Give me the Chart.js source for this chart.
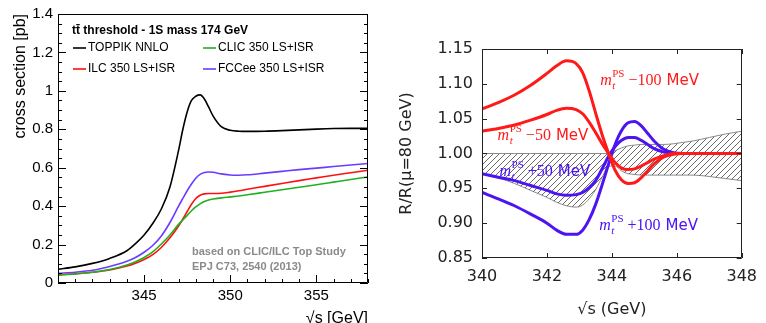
<!DOCTYPE html>
<html>
<head>
<meta charset="utf-8">
<script src="https://cdn.jsdelivr.net/npm/chart.js@4.4.1/dist/chart.umd.min.js"></script>
<style>
  html, body { margin: 0; padding: 0; background: #fff; }
  body { width: 766px; height: 323px; overflow: hidden; position: relative; }
  canvas { position: absolute; top: 0; }
  #left { left: 0; }
  #right { left: 383px; }
</style>
</head>
<body>
<canvas id="left" width="383" height="323"></canvas>
<canvas id="right" width="383" height="323"></canvas>
<script>
// ---- left panel: ttbar threshold scan, cross section [pb] vs sqrt(s) [GeV]
const leftEnergy = [340, 341, 342, 343, 344, 344.5, 345, 345.5, 346, 346.5, 347, 347.25, 347.5, 347.75,
  348, 348.25, 348.5, 348.75, 349, 349.5, 350, 350.5, 351, 352, 353, 354, 355, 356, 357, 358];
const toppikNNLO = [0.072, 0.084, 0.102, 0.128, 0.168, 0.205, 0.25, 0.31, 0.385, 0.5, 0.69, 0.8, 0.89, 0.95,
  0.972, 0.979, 0.958, 0.915, 0.87, 0.812, 0.795, 0.79, 0.789, 0.79, 0.793, 0.797, 0.801, 0.804, 0.805, 0.805];
const fcceeLSISR = [0.05, 0.056, 0.066, 0.086, 0.113, 0.133, 0.16, 0.195, 0.245, 0.315, 0.4, 0.44, 0.48, 0.515,
  0.545, 0.565, 0.575, 0.578, 0.576, 0.568, 0.562, 0.561, 0.563, 0.572, 0.581, 0.59, 0.598, 0.606, 0.614, 0.622];
const ilcLSISR = [0.043, 0.048, 0.056, 0.068, 0.088, 0.103, 0.122, 0.148, 0.185, 0.235, 0.297, 0.333, 0.372, 0.41,
  0.44, 0.457, 0.464, 0.466, 0.466, 0.467, 0.473, 0.48, 0.488, 0.503, 0.518, 0.533, 0.547, 0.561, 0.574, 0.587];
const clicLSISR = [0.041, 0.047, 0.056, 0.07, 0.094, 0.111, 0.133, 0.162, 0.203, 0.25, 0.305, 0.328, 0.352, 0.376,
  0.396, 0.412, 0.424, 0.432, 0.437, 0.443, 0.448, 0.453, 0.459, 0.472, 0.485, 0.498, 0.511, 0.525, 0.539, 0.552];
const leftXLabels = [345, 350, 355];
const leftYLabels = [0, 0.2, 0.4, 0.6, 0.8, 1, 1.2, 1.4];

// ---- right panel: ratio to mu = 80 GeV for shifted PS masses
const rightEnergy = [340, 340.5, 341, 341.5, 342, 342.3, 342.6, 342.9, 343.1, 343.3, 343.5, 343.7, 343.9,
  344.1, 344.3, 344.5, 344.7, 344.9, 345.1, 345.3, 345.6, 345.9, 346.2, 346.5, 347, 347.5, 348];
const massMinus100 = [1.064, 1.073, 1.084, 1.098, 1.115, 1.126, 1.133, 1.129, 1.116, 1.09, 1.058, 1.027, 1.0,
  0.976, 0.962, 0.957, 0.958, 0.965, 0.975, 0.985, 0.995, 0.999, 1.0, 1.0, 1.0, 1.0, 1.0];
const massMinus50 = [1.032, 1.036, 1.041, 1.048, 1.056, 1.062, 1.065, 1.063, 1.057, 1.045, 1.03, 1.014, 1.0,
  0.987, 0.979, 0.977, 0.978, 0.982, 0.987, 0.992, 0.997, 1.0, 1.0, 1.0, 1.0, 1.0, 1.0];
const massPlus50 = [0.971, 0.966, 0.961, 0.954, 0.947, 0.942, 0.94, 0.941, 0.944, 0.951, 0.961, 0.978, 0.996,
  1.01, 1.019, 1.023, 1.023, 1.019, 1.013, 1.007, 1.002, 1.0, 1.0, 1.0, 1.0, 1.0, 1.0];
const massPlus100 = [0.944, 0.935, 0.925, 0.913, 0.9, 0.89, 0.884, 0.884, 0.89, 0.905, 0.927, 0.955, 0.985,
  1.013, 1.033, 1.044, 1.046, 1.04, 1.029, 1.018, 1.006, 1.001, 1.0, 1.0, 1.0, 1.0, 1.0];
const scaleBandHigh = [1.0, 1.0, 1.0, 1.0, 1.0, 1.0, 1.0, 1.0, 1.0, 1.0, 1.0, 1.0, 1.0,
  1.004, 1.008, 1.011, 1.012, 1.013, 1.013, 1.013, 1.013, 1.014, 1.016, 1.018, 1.023, 1.028, 1.032];
const scaleBandLow = [0.971, 0.965, 0.957, 0.947, 0.937, 0.93, 0.925, 0.923, 0.926, 0.935, 0.948, 0.966, 0.982,
  0.982, 0.975, 0.971, 0.97, 0.969, 0.969, 0.969, 0.969, 0.969, 0.969, 0.969, 0.967, 0.964, 0.961];
const massShifts = ['\u2212100', '\u221250', '+50', '+100'];
const rightXLabels = [340, 342, 344, 346, 348];
const rightYLabels = [0.85, 0.9, 0.95, 1.0, 1.05, 1.1, 1.15];

const pair = (xs, ys) => xs.map((x, i) => ({ x, y: ys[i] }));
const hasLabel = (arr, v) => arr.some(a => Math.abs(a - v) < 1e-6);

const ROOT_FONT = '"Liberation Sans", Arial, Helvetica, sans-serif';
const MPL_FONT = '"DejaVu Sans", sans-serif';

// frame + inward ticks, drawn from the scale ticks
function makeFrame(cfg) {
  return {
    id: 'frame_' + cfg.name,
    afterDatasetsDraw(chart) {
      const { ctx, chartArea: a, scales: { x, y } } = chart;
      ctx.save();
      ctx.strokeStyle = cfg.color;
      ctx.lineWidth = 1;
      ctx.beginPath();
      x.ticks.forEach(t => {
        const px = Math.round(x.getPixelForValue(t.value)) + 0.5;
        const len = cfg.xMajor(t.value) ? cfg.major : cfg.minor;
        ctx.moveTo(px, a.bottom);
        ctx.lineTo(px, a.bottom - len);
        if (cfg.top) {
          ctx.moveTo(px, a.top);
          ctx.lineTo(px, a.top + len);
        }
      });
      y.ticks.forEach(t => {
        const py = Math.round(y.getPixelForValue(t.value)) + 0.5;
        const len = cfg.yMajor(t.value) ? cfg.major : cfg.minor;
        ctx.moveTo(a.left, py);
        ctx.lineTo(a.left + len, py);
        ctx.moveTo(a.right, py);
        ctx.lineTo(a.right - len, py);
      });
      ctx.rect(Math.round(a.left) + 0.5, Math.round(a.top) + 0.5,
        Math.round(a.right - a.left) - 1, Math.round(a.bottom - a.top) - 1);
      ctx.stroke();
      ctx.restore();
    }
  };
}

// legend box of the left panel (ROOT TLegend style)
const leftLegend = {
  id: 'leftLegend',
  afterDraw(chart) {
    const ctx = chart.ctx;
    ctx.save();
    ctx.textBaseline = 'middle';
    ctx.textAlign = 'left';
    ctx.fillStyle = '#000';
    ctx.font = 'bold 12px ' + ROOT_FONT;
    ctx.fillText('tt\u0304 threshold - 1S mass 174 GeV', 72, 31);
    const entries = [
      ['TOPPIK NNLO', '#000000', 73, 48],
      ['CLIC 350 LS+ISR', '#22b022', 203, 48],
      ['ILC 350 LS+ISR', '#ff1010', 73, 69],
      ['FCCee 350 LS+ISR', '#6a3cff', 203, 69]
    ];
    ctx.font = '12px ' + ROOT_FONT;
    entries.forEach(([label, color, x, y]) => {
      ctx.strokeStyle = color;
      ctx.lineWidth = 1.6;
      ctx.beginPath();
      ctx.moveTo(x, y);
      ctx.lineTo(x + 13, y);
      ctx.stroke();
      ctx.fillStyle = '#000';
      ctx.fillText(label, x + 15, y);
    });
    ctx.fillStyle = '#8a8a8a';
    ctx.font = 'bold 11px ' + ROOT_FONT;
    ctx.fillText('based on CLIC/ILC Top Study', 192, 252);
    ctx.fillText('EPJ C73, 2540 (2013)', 192, 267);
    ctx.restore();
  }
};

// m_t^PS shift labels of the right panel, anchored in data units
const labelAnchors = [
  { x: 343.64, y: 1.098, color: '#ff1a1a' },
  { x: 340.48, y: 1.0194, color: '#ff1a1a' },
  { x: 340.54, y: 0.9677, color: '#4d14f2' },
  { x: 343.61, y: 0.890, color: '#4d14f2' }
];
const massLabels = {
  id: 'massLabels',
  afterDatasetsDraw(chart) {
    const { ctx, scales: { x, y } } = chart;
    massShifts.forEach((shift, i) => {
      const an = labelAnchors[i];
      let cx = x.getPixelForValue(an.x);
      const by = y.getPixelForValue(an.y);
      ctx.save();
      ctx.fillStyle = an.color;
      ctx.textAlign = 'left';
      ctx.textBaseline = 'alphabetic';
      ctx.font = 'italic 16px "Liberation Serif", "DejaVu Serif", serif';
      ctx.fillText('m', cx, by);
      cx += ctx.measureText('m').width + 0.5;
      ctx.font = 'italic 11px "Liberation Serif", serif';
      ctx.fillText('t', cx, by + 4);
      const tw = ctx.measureText('t').width;
      ctx.font = '11px "Liberation Serif", serif';
      ctx.fillText('PS', cx, by - 8);
      cx += Math.max(tw, ctx.measureText('PS').width) + 4;
      ctx.font = '16px "Liberation Serif", serif';
      ctx.fillText(shift, cx, by);
      cx += ctx.measureText(shift).width + 5;
      ctx.font = '15px ' + MPL_FONT;
      ctx.fillText('MeV', cx, by);
      ctx.restore();
    });
  }
};

function line(label, xs, ys, color, width) {
  return {
    label, data: pair(xs, ys), borderColor: color, borderWidth: width,
    pointRadius: 0, fill: false, cubicInterpolationMode: 'monotone'
  };
}

new Chart(document.getElementById('left'), {
  type: 'line',
  data: {
    datasets: [
      line('TOPPIK NNLO', leftEnergy, toppikNNLO, '#000000', 1.6),
      line('CLIC 350 LS+ISR', leftEnergy, clicLSISR, '#22b022', 1.6),
      line('ILC 350 LS+ISR', leftEnergy, ilcLSISR, '#ff1010', 1.6),
      line('FCCee 350 LS+ISR', leftEnergy, fcceeLSISR, '#6a3cff', 1.6)
    ]
  },
  options: {
    responsive: false,
    animation: false,
    devicePixelRatio: 1,
    layout: { padding: { top: 14, right: 15, left: 0, bottom: 0 } },
    plugins: { legend: { display: false }, tooltip: { enabled: false } },
    scales: {
      x: {
        type: 'linear', min: 340, max: 358,
        grid: { display: false, drawTicks: false }, border: { display: false },
        ticks: {
          stepSize: 1, autoSkip: false, maxRotation: 0, padding: 4,
          color: '#000', font: { family: ROOT_FONT, size: 15 },
          callback: v => hasLabel(leftXLabels, v) ? String(v) : ''
        },
        title: {
          display: true, text: '\u221As [GeV]', align: 'end', color: '#000',
          font: { family: ROOT_FONT, size: 16 }, padding: { top: 0, bottom: -5 }
        },
        afterFit: s => { s.height = 40; }
      },
      y: {
        min: 0, max: 1.4,
        grid: { display: false, drawTicks: false }, border: { display: false },
        ticks: {
          stepSize: 0.05, autoSkip: false, padding: 5,
          color: '#000', font: { family: ROOT_FONT, size: 15 },
          callback: v => hasLabel(leftYLabels, v) ? String(Math.round(v * 10) / 10) : ''
        },
        title: {
          display: true, text: 'cross section [pb]', align: 'end', color: '#000',
          font: { family: ROOT_FONT, size: 16 }, padding: { top: 11, bottom: 0 }
        },
        afterFit: s => { s.width = 58; }
      }
    }
  },
  plugins: [
    makeFrame({
      name: 'left', color: '#000', major: 8, minor: 4, top: false,
      xMajor: v => Math.abs(v % 5) < 1e-6,
      yMajor: v => hasLabel(leftYLabels, v)
    }),
    leftLegend
  ]
});

// hatch pattern for the scale-variation band
const hatch = document.createElement('canvas');
hatch.width = 6; hatch.height = 6;
const hg = hatch.getContext('2d');
hg.strokeStyle = '#5a5a5a';
hg.lineWidth = 0.9;
hg.beginPath();
hg.moveTo(0, 6); hg.lineTo(6, 0);
hg.moveTo(-1, 1); hg.lineTo(1, -1);
hg.moveTo(5, 7); hg.lineTo(7, 5);
hg.stroke();
const hatchPattern = hg.createPattern(hatch, 'repeat');

new Chart(document.getElementById('right'), {
  type: 'line',
  data: {
    datasets: [
      line('mt -100 MeV', rightEnergy, massMinus100, '#ff1a1a', 3),
      line('mt -50 MeV', rightEnergy, massMinus50, '#ff1a1a', 3),
      line('mt +50 MeV', rightEnergy, massPlus50, '#4d14f2', 3),
      line('mt +100 MeV', rightEnergy, massPlus100, '#4d14f2', 3),
      {
        label: 'band high', data: pair(rightEnergy, scaleBandHigh), borderColor: '#8a8a8a', borderWidth: 1,
        pointRadius: 0, cubicInterpolationMode: 'monotone', fill: '+1', backgroundColor: hatchPattern
      },
      {
        label: 'band low', data: pair(rightEnergy, scaleBandLow), borderColor: '#8a8a8a', borderWidth: 1,
        pointRadius: 0, cubicInterpolationMode: 'monotone', fill: false
      }
    ]
  },
  options: {
    responsive: false,
    animation: false,
    devicePixelRatio: 1,
    layout: { padding: { top: 49, right: 18, left: 0, bottom: 0 } },
    plugins: { legend: { display: false }, tooltip: { enabled: false } },
    scales: {
      x: {
        type: 'linear', min: 340, max: 348,
        grid: { display: false, drawTicks: false }, border: { display: false },
        ticks: {
          stepSize: 2, autoSkip: false, maxRotation: 0, padding: 9,
          color: '#222', font: { family: MPL_FONT, size: 16 },
          callback: v => hasLabel(rightXLabels, v) ? String(v) : ''
        },
        title: {
          display: true, text: '\u221As (GeV)', color: '#222',
          font: { family: MPL_FONT, size: 16 }, padding: { top: 0, bottom: 3.4 }
        },
        afterFit: s => { s.height = 65; }
      },
      y: {
        min: 0.85, max: 1.15,
        grid: { display: false, drawTicks: false }, border: { display: false },
        ticks: {
          stepSize: 0.05, autoSkip: false, padding: 9,
          color: '#222', font: { family: MPL_FONT, size: 16 },
          callback: v => hasLabel(rightYLabels, v) ? v.toFixed(2) : ''
        },
        title: {
          display: true, text: 'R/R(\u03BC=80 GeV)', color: '#222',
          font: { family: MPL_FONT, size: 16 }, padding: { top: 14, bottom: 0 }
        },
        afterFit: s => { s.width = 99; }
      }
    }
  },
  plugins: [
    makeFrame({
      name: 'right', color: '#222', major: 5, minor: 5, top: true,
      xMajor: () => true, yMajor: () => true
    }),
    massLabels
  ]
});
</script>
</body>
</html>
